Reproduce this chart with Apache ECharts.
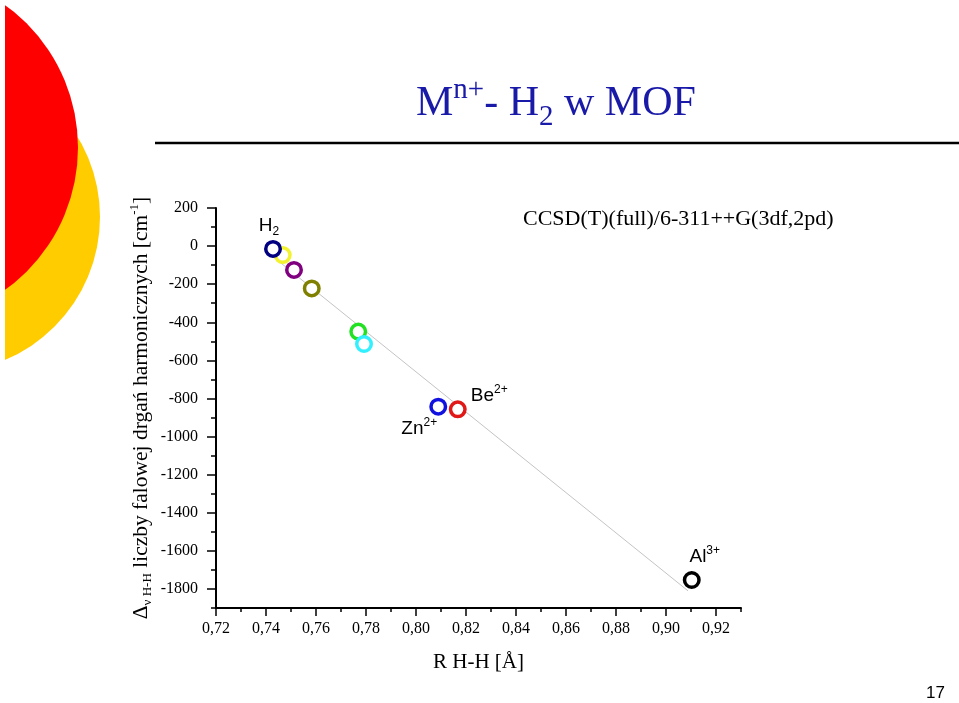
<!DOCTYPE html>
<html>
<head>
<meta charset="utf-8">
<script src="https://cdn.jsdelivr.net/npm/echarts@6/dist/echarts.min.js"></script>
<style>
html,body{margin:0;padding:0;background:#fff;}
#chart{width:959px;height:703px;}
</style>
</head>
<body>
<div id="chart"></div>
<script>
// ---- data ----
const rHH = [0.7467, 0.7428, 0.7512, 0.7583, 0.7769, 0.7792, 0.8089, 0.8167, 0.9103];
const dNu = [-47, -15, -125, -222, -449, -514, -843, -857, -1753];
const pointColors = ['#f2f230', '#000080', '#800080', '#808000', '#22e022', '#33f0ff', '#1212e0', '#e01818', '#000000'];
const pointLabels = ['', 'H2', '', '', '', '', 'Zn2+', 'Be2+', 'Al3+'];
const fitX = [0.7416, 0.9088];
const fitY = [-43, -1810];
const xTickLabels = ['0,72','0,74','0,76','0,78','0,80','0,82','0,84','0,86','0,88','0,90','0,92'];
const yTickLabels = ['-1800','-1600','-1400','-1200','-1000','-800','-600','-400','-200','0','200'];

const labelRich = {
  'H2': '{m|H}{sub|2}',
  'Zn2+': '{m|Zn}{sup|2+}',
  'Be2+': '{m|Be}{sup|2+}',
  'Al3+': '{m|Al}{sup|3+}'
};
const labelPlace = {
  'H2':   {position: 'top', distance: 4, offset: [-4, 2]},
  'Zn2+': {position: 'bottom', distance: 4, offset: [-19, -3]},
  'Be2+': {position: 'right', distance: 4, offset: [0, -14]},
  'Al3+': {position: 'top', distance: 2, offset: [13, 0]}
};

const scatterData = rHH.map((x, i) => {
  const item = {value: [x, dNu[i]], itemStyle: {color: '#ffffff', borderColor: pointColors[i], borderWidth: 3.5, opacity: 1}};
  const lab = pointLabels[i];
  if (lab) {
    item.label = Object.assign({show: true, formatter: labelRich[lab]}, labelPlace[lab]);
  } else {
    item.label = {show: false};
  }
  return item;
});

const serif = '"Liberation Serif","Times New Roman",serif';
const sans = '"Liberation Sans",Arial,sans-serif';
const titleBlue = '#1a1aa8';

const chart = echarts.init(document.getElementById('chart'), null, {renderer: 'canvas'});
chart.setOption({
  backgroundColor: '#fff',
  animation: false,
  title: [{
    text: '{m|M}{sup|n+}{m|- H}{sub|2}{m| w MOF}',
    left: 411, top: 71,
    textStyle: {
      fontWeight: 'normal',
      rich: {
        m: {fontFamily: serif, fontSize: 42, fontWeight: 'normal', color: titleBlue, lineHeight: 56, verticalAlign: 'middle'},
        sup: {fontFamily: serif, fontSize: 29, fontWeight: 'normal', color: titleBlue, lineHeight: 30, verticalAlign: 'top'},
        sub: {fontFamily: serif, fontSize: 29, fontWeight: 'normal', color: titleBlue, lineHeight: 28, verticalAlign: 'bottom'}
      }
    }
  }, {
    text: 'CCSD(T)(full)/6-311++G(3df,2pd)',
    left: 518, top: 203,
    textStyle: {fontFamily: serif, fontSize: 22, fontWeight: 'normal', color: '#000'}
  }],
  graphic: [
    {type: 'circle', shape: {cx: -55, cy: 217, r: 155}, style: {fill: '#ffcc00'}, z: 0},
    {type: 'circle', shape: {cx: -97.6, cy: 147.5, r: 175.6}, style: {fill: '#ff0000'}, z: 1},
    {type: 'rect', shape: {x: 0, y: 0, width: 5, height: 703}, style: {fill: '#fff'}, z: 2},
    {type: 'line', shape: {x1: 155, y1: 143, x2: 959, y2: 143}, style: {stroke: '#000', lineWidth: 2.5}, z: 2},
    {type: 'text', left: 926, top: 685, style: {text: '17', font: '17px ' + sans, fill: '#000'}, z: 2}
  ],
  grid: [
    {left: 216, top: 208, width: 525, height: 400, containLabel: false},
    {left: 216, top: 208, width: 500, height: 381, containLabel: false}
  ],
  xAxis: [{
    type: 'value', gridIndex: 0, min: 0.72, max: 0.93, interval: 0.01,
    axisLine: {show: true, onZero: false, lineStyle: {color: '#000', width: 2}},
    axisTick: {show: true, inside: false, length: 4, lineStyle: {color: '#000', width: 1.5}},
    axisLabel: {show: false},
    splitLine: {show: false},
    name: 'R H-H [Å]', nameLocation: 'middle', nameGap: 44,
    nameTextStyle: {fontFamily: serif, fontSize: 21, color: '#000'}
  }, {
    type: 'value', gridIndex: 1, min: 0.72, max: 0.92, interval: 0.02, offset: 19,
    axisLine: {show: false, onZero: false},
    axisTick: {show: true, inside: false, length: 8, lineStyle: {color: '#000', width: 1.5}},
    axisLabel: {
      show: true, margin: 13, fontFamily: serif, fontSize: 16, color: '#000',
      formatter: (v) => xTickLabels[Math.round((v - 0.72) / 0.02)]
    },
    splitLine: {show: false}
  }],
  yAxis: [{
    type: 'value', gridIndex: 0, min: -1900, max: 200, interval: 100,
    axisLine: {show: true, onZero: false, lineStyle: {color: '#000', width: 2}},
    axisTick: {show: true, inside: false, length: 5, lineStyle: {color: '#000', width: 1.5}},
    axisLabel: {show: false},
    splitLine: {show: false},
    name: '{m|Δ}{sub|ν H-H}{m| liczby falowej drgań harmonicznych [cm}{sup|-1}{m|]}',
    nameLocation: 'middle', nameRotate: 90, nameGap: 62,
    nameTextStyle: {
      rich: {
        m: {fontFamily: serif, fontSize: 21.5, color: '#000', lineHeight: 26, verticalAlign: 'middle'},
        sub: {fontFamily: serif, fontSize: 13, color: '#000', lineHeight: 14, verticalAlign: 'bottom'},
        sup: {fontFamily: serif, fontSize: 13, color: '#000', lineHeight: 14, verticalAlign: 'top'}
      }
    }
  }, {
    type: 'value', gridIndex: 1, min: -1800, max: 200, interval: 200,
    axisLine: {show: false, onZero: false},
    axisTick: {show: true, inside: false, length: 9, lineStyle: {color: '#000', width: 1.5}},
    axisLabel: {
      show: true, margin: 18, fontFamily: serif, fontSize: 16, color: '#000',
      formatter: (v) => yTickLabels[Math.round((v + 1800) / 200)]
    },
    splitLine: {show: false}
  }],
  series: [{
    type: 'line', xAxisIndex: 0, yAxisIndex: 0,
    data: fitX.map((x, i) => [x, fitY[i]]),
    symbol: 'none', silent: true,
    lineStyle: {color: '#c4c4c4', width: 1}, z: 1
  }, {
    type: 'scatter', xAxisIndex: 0, yAxisIndex: 0,
    symbol: 'circle', symbolSize: 14.5,
    itemStyle: {color: '#ffffff', borderWidth: 3.5, opacity: 1},
    label: {
      show: false, color: '#000',
      rich: {
        m: {fontFamily: sans, fontSize: 19, color: '#000', lineHeight: 24, verticalAlign: 'middle'},
        sup: {fontFamily: sans, fontSize: 12, color: '#000', lineHeight: 12, verticalAlign: 'top'},
        sub: {fontFamily: sans, fontSize: 12, color: '#000', lineHeight: 12, verticalAlign: 'bottom'}
      }
    },
    emphasis: {disabled: true},
    data: scatterData, z: 3
  }]
});
</script>
</body>
</html>
